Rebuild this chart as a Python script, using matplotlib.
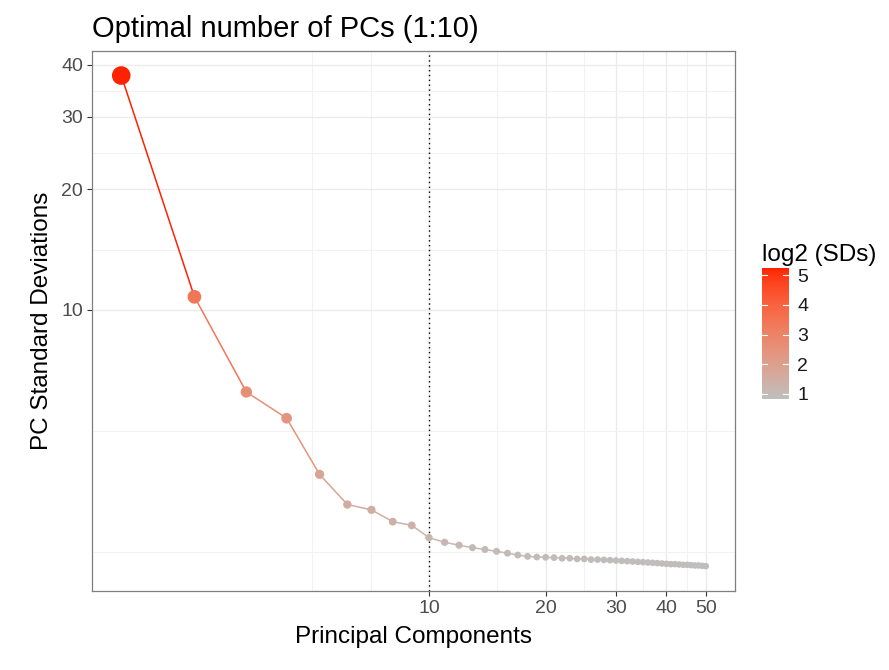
import matplotlib
matplotlib.use('Agg')
import matplotlib.pyplot as plt
import numpy as np
from matplotlib.collections import LineCollection
from matplotlib.colors import ListedColormap, Normalize
from matplotlib.colorbar import ColorbarBase

plt.rcParams['font.family'] = ['Liberation Sans', 'DejaVu Sans']

# standard deviation of each PC
pcs = np.arange(1, 51)
sds = [37.7, 10.8, 6.08, 5.15, 3.55, 2.87, 2.76, 2.53, 2.46, 2.24,
       2.16, 2.11, 2.07, 2.04, 2.01, 1.98, 1.95, 1.93, 1.92, 1.915,
       1.91, 1.90, 1.90, 1.89, 1.89, 1.88, 1.88, 1.875, 1.87, 1.865,
       1.86, 1.855, 1.85, 1.845, 1.84, 1.835, 1.83, 1.825, 1.82, 1.815,
       1.81, 1.81, 1.805, 1.80, 1.80, 1.795, 1.79, 1.79, 1.785, 1.78]
x_ticks = [10, 20, 30, 40, 50]
y_ticks = [10, 20, 30, 40]
cbar_ticks = [1, 2, 3, 4, 5]
n_opt = 10

sds = np.array(sds)
l2 = np.log2(sds)


# grey -> red gradient interpolated in CIELAB like ggplot's scale_colour_gradient
def srgb_to_lab(c):
    c = np.asarray(c, float)
    lin = np.where(c <= 0.04045, c / 12.92, ((c + 0.055) / 1.055) ** 2.4)
    M = np.array([[0.4124, 0.3576, 0.1805],
                  [0.2126, 0.7152, 0.0722],
                  [0.0193, 0.1192, 0.9505]])
    xyz = M @ lin / np.array([0.95047, 1.0, 1.08883])
    f = np.where(xyz > 0.008856, np.cbrt(xyz), 7.787 * xyz + 16 / 116)
    return np.array([116 * f[1] - 16, 500 * (f[0] - f[1]), 200 * (f[1] - f[2])])


def lab_to_srgb(lab):
    L, a, b = lab
    fy = (L + 16) / 116
    f = np.array([fy + a / 500, fy, fy - b / 200])
    xyz = np.where(f ** 3 > 0.008856, f ** 3, (f - 16 / 116) / 7.787)
    xyz = xyz * np.array([0.95047, 1.0, 1.08883])
    Mi = np.array([[3.2406, -1.5372, -0.4986],
                   [-0.9689, 1.8758, 0.0415],
                   [0.0557, -0.2040, 1.0570]])
    lin = np.clip(Mi @ xyz, 0, 1)
    c = np.where(lin <= 0.0031308, 12.92 * lin, 1.055 * lin ** (1 / 2.4) - 0.055)
    return np.clip(c, 0, 1)


lo = srgb_to_lab([190 / 255, 190 / 255, 190 / 255])
hi = srgb_to_lab([1.0, 34 / 255, 0.0])
cmap = ListedColormap([lab_to_srgb(lo + (hi - lo) * t) for t in np.linspace(0, 1, 256)])
norm = Normalize(vmin=l2.min(), vmax=l2.max())
cols = cmap(norm(l2))

fig = plt.figure(figsize=(8.89, 6.70), dpi=100, facecolor='white')
ax = fig.add_axes([0.1035, 0.1184, 0.7233, 0.8055])


def fwd(v):
    return np.log10(np.asarray(v, float) + 1)


def inv(t):
    return 10 ** np.asarray(t, float) - 1


ax.set_xscale('function', functions=(fwd, inv))
ax.set_yscale('function', functions=(fwd, inv))

# ggplot style 5% expansion in transformed space
tx = fwd([pcs.min(), pcs.max()])
ty = fwd([sds.min(), sds.max()])
ex = (tx[1] - tx[0]) * 0.05
ey = (ty[1] - ty[0]) * 0.05
ax.set_xlim(inv(tx[0] - ex), inv(tx[1] + ex))
ax.set_ylim(inv(ty[0] - ey), inv(ty[1] + ey))

# grid
for v in [4.76, 6.98, 15, 25, 35, 45]:
    ax.axvline(v, color='#F2F2F2', lw=0.8, zorder=0)
for v in x_ticks:
    ax.axvline(v, color='#EBEBEB', lw=1.0, zorder=0)
for v in [2.0, 4.74, 14.2, 24.6, 34.7]:
    ax.axhline(v, color='#F2F2F2', lw=0.8, zorder=0)
for v in y_ticks:
    ax.axhline(v, color='#EBEBEB', lw=1.0, zorder=0)

ax.axvline(n_opt, color='black', lw=1.0, ls=(0, (1, 2.5)), zorder=1)

# line segments coloured by the starting point
pts = np.column_stack([pcs, sds])
segs = np.stack([pts[:-1], pts[1:]], axis=1)
lc = LineCollection(segs, colors=cols[:-1], linewidths=1.1, zorder=2)
ax.add_collection(lc)

d_px = 6.5 + 2.75 * (l2 - l2.min())
ax.scatter(pcs, sds, s=(d_px * 0.72) ** 2, c=cols, edgecolors='none', zorder=3)

ax.set_xticks(x_ticks)
ax.set_xticklabels([str(v) for v in x_ticks])
ax.set_yticks(y_ticks)
ax.set_yticklabels([str(v) for v in y_ticks])
ax.minorticks_off()
ax.tick_params(axis='both', colors='#333333', labelcolor='#4D4D4D', labelsize=14,
               length=3.5, width=0.8, pad=3)
for s in ax.spines.values():
    s.set_color('#7F7F7F')
    s.set_linewidth(0.9)

ax.set_xlabel('Principal Components', fontsize=17.5, labelpad=7)
ax.set_ylabel('PC Standard Deviations', fontsize=17.5, labelpad=6)
fig.text(0.1035, 0.957, 'Optimal number of PCs (1:10)', fontsize=21, va='center', ha='left')

# colour bar legend
cax = fig.add_axes([0.857, 0.4045, 0.0304, 0.1955])
cb = ColorbarBase(cax, cmap=cmap, norm=norm, orientation='vertical')
cb.set_ticks(cbar_ticks)
cb.outline.set_visible(False)
cax.tick_params(length=0, labelsize=14, labelcolor='#1A1A1A', pad=6)
for v in cbar_ticks:
    cax.plot([0, 0.2], [v, v], color='white', lw=0.8)
    cax.plot([0.8, 1.0], [v, v], color='white', lw=0.8)
cax.set_xlim(0, 1)
fig.text(0.857, 0.62, 'log2 (SDs)', fontsize=17.5, va='center', ha='left')

plt.savefig('out.png', dpi=100, facecolor='white')
